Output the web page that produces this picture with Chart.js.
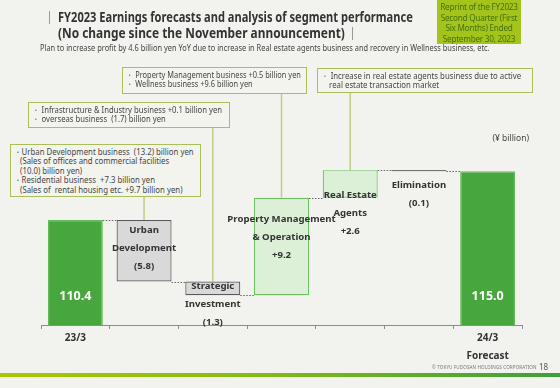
<!DOCTYPE html>
<html>
<head>
<meta charset="utf-8">
<script src="https://cdn.jsdelivr.net/npm/chart.js@4.4.0/dist/chart.umd.min.js"></script>
<style>
  html, body { margin: 0; padding: 0; background: #f2f2ee; }
  #wrap { position: relative; width: 560px; height: 388px; overflow: hidden; font-family: "Noto Sans", sans-serif; color: #333; }
  #chart { position: absolute; left: 0; top: 0; }
  .abs { position: absolute; white-space: nowrap; }
  .title { font-weight: bold; font-size: 13.5px; line-height: 16px; color: #333; transform-origin: left center; }
  .bar { position: absolute; width: 1px; height: 13px; background: #999; }
  .sub { font-size: 9px; line-height: 11px; color: #444; transform-origin: left center; }
  .reprint { left: 437px; top: 0; width: 84px; height: 44px; background: #a5c41b; }
  .reprint div { position: absolute; left: 0; width: 84px; text-align: center; font-size: 8.2px; line-height: 9px; color: #44720c; letter-spacing: -0.25px; }
  .note { position: absolute; border: 1.5px solid #a9bf5a; background: #f4f4ef; box-sizing: border-box; }
  .note .in { position: absolute; left: 3px; top: 2px; font-size: 8.2px; line-height: 9.4px; color: #444; white-space: nowrap; transform-origin: left top; }
  .unit { right: 31px; top: 132px; font-size: 8.5px; color: #444; }
  .foot { position: absolute; left: 0; top: 373px; width: 560px; height: 4px; background: linear-gradient(to right, #aac800, #86bb16 45%, #3f9f3a); }
  .copy { left: 432px; top: 364px; font-size: 4.6px; color: #777; letter-spacing: 0.1px; }
  .page { left: 539px; top: 361px; font-size: 8px; color: #555; }
</style>
</head>
<body>
<div id="wrap">
  <canvas id="chart" width="560" height="388"></canvas>

  <div class="bar" style="left:49px; top:11px;"></div>
  <div class="abs title" data-fit="355" style="left:58px; top:9px;">FY2023 Earnings forecasts and analysis of segment performance</div>
  <div class="abs title" data-fit="287" style="left:58px; top:25px;">(No change since the November announcement)</div>
  <div class="bar" style="left:352px; top:27px;"></div>
  <div class="abs sub" data-fit="450" style="left:40px; top:42px;">Plan to increase profit by 4.6 billion yen YoY due to increase in Real estate agents business and recovery in Wellness business, etc.</div>

  <div class="abs reprint">
    <div style="top:2px;">Reprint of the FY2023</div>
    <div style="top:12.5px;">Second Quarter (First</div>
    <div style="top:23px;">Six Months) Ended</div>
    <div style="top:33.5px;">September 30, 2023</div>
  </div>

  <div class="note" style="left:10px; top:144px; width:191px; height:53px;">
    <div class="in" data-fit="180">・Urban Development business&nbsp; (13.2) billion yen<br>&nbsp;&nbsp;&nbsp;(Sales of offices and commercial facilities<br>&nbsp;&nbsp;&nbsp;(10.0) billion yen)<br>・Residential business&nbsp; +7.3 billion yen<br>&nbsp;&nbsp;&nbsp;(Sales of&nbsp; rental housing etc. +9.7 billion yen)</div>
  </div>
  <div class="note" style="left:28px; top:102px; width:202px; height:26px;">
    <div class="in" data-fit="190">・ Infrastructure &amp; Industry business +0.1 billion yen<br>・ overseas business&nbsp; (1.7) billion yen</div>
  </div>
  <div class="note" style="left:122px; top:67px; width:185px; height:27px;">
    <div class="in" data-fit="175">・ Property Management business +0.5 billion yen<br>・ Wellness business +9.6 billion yen</div>
  </div>
  <div class="note" style="left:317px; top:68px; width:216px; height:25px;">
    <div class="in" data-fit="200">・ Increase in real estate agents business due to active<br>&nbsp;&nbsp;&nbsp;&nbsp;real estate transaction market</div>
  </div>

  <div class="abs unit">(¥ billion)</div>

  <div class="foot"></div>
  <div class="abs copy">© TOKYU FUDOSAN HOLDINGS CORPORATION</div>
  <div class="abs page">18</div>
</div>

<script>
// データ（単位：十億円）
const categories = ['23/3', 'Urban Development', 'Strategic Investment', 'Property Management & Operation', 'Real Estate Agents', 'Elimination', '24/3 Forecast'];
const tickLabels = ['23/3', '', '', '', '', '', ['24/3', 'Forecast']];
const changes = [110.4, -5.8, -1.3, 9.2, 2.6, -0.1, 115.0];
const kinds = ['total', 'down', 'down', 'up', 'up', 'elim', 'total'];
const barLabels = [
  ['110.4'],
  ['Urban', 'Development', '(5.8)'],
  ['Strategic', 'Investment', '(1.3)'],
  ['Property Management', '& Operation', '+9.2'],
  ['Real Estate', 'Agents', '+2.6'],
  ['Elimination', '(0.1)'],
  ['115.0']
];

// 表示用の位置・スタイル
const labelOffset = [null, 10, 5, 22, 25, 15, null];
const noteLineTop = [null, 196, 127, 93, 92, null, null];
const fills = { total: '#48a63e', down: '#d9d9d9', up: '#dcf0d8', elim: '#111111' };
const borders = { total: '#66bb5c', down: '#5a5a5a', up: '#6cc060', elim: '#111111' };

// 積み上げ（ウォーターフォール）の範囲を作る
let running = 0;
const ranges = changes.map((c, i) => {
  if (kinds[i] === 'total') { running = c; return [0, c]; }
  const r = [running, running + c];
  running += c;
  return r;
});

/**
 * 注記の引き出し線・コネクタ・ラベル
 */
const waterfallDecor = {
  id: 'waterfallDecor',
  beforeDatasetsDraw(chart) {
    const ctx = chart.ctx;
    const meta = chart.getDatasetMeta(0);
    ctx.save();
    ctx.strokeStyle = '#c2cc86';
    ctx.lineWidth = 1.5;
    meta.data.forEach((bar, i) => {
      if (noteLineTop[i] == null) return;
      const top = Math.min(bar.y, bar.base);
      ctx.beginPath();
      ctx.moveTo(bar.x, noteLineTop[i]);
      ctx.lineTo(bar.x, top);
      ctx.stroke();
    });
    ctx.restore();
  },
  afterDatasetsDraw(chart) {
    const { ctx, chartArea } = chart;
    const yScale = chart.scales.y;
    const meta = chart.getDatasetMeta(0);

    // コネクタ（点線）
    ctx.save();
    ctx.strokeStyle = '#666';
    ctx.lineWidth = 1;
    ctx.setLineDash([1.5, 1.5]);
    for (let i = 0; i < meta.data.length - 1; i++) {
      const a = meta.data[i], b = meta.data[i + 1];
      const py = Math.round(yScale.getPixelForValue(ranges[i][1])) + 0.5;
      ctx.beginPath();
      ctx.moveTo(a.x + a.width / 2, py);
      ctx.lineTo(b.x - b.width / 2, py);
      ctx.stroke();
    }
    ctx.restore();

    // ラベル
    ctx.save();
    ctx.textAlign = 'center';
    ctx.textBaseline = 'middle';
    meta.data.forEach((bar, i) => {
      const lines = barLabels[i];
      if (kinds[i] === 'total') {
        ctx.font = 'bold 12.5px "Noto Sans", sans-serif';
        ctx.fillStyle = '#ffffff';
        ctx.fillText(lines[0], bar.x, chartArea.bottom - 29);
        return;
      }
      const top = Math.min(bar.y, bar.base);
      ctx.font = 'bold 9.6px "Noto Sans", sans-serif';
      ctx.fillStyle = '#333';
      lines.forEach((t, k) => ctx.fillText(t, bar.x, top + labelOffset[i] + k * 18));
    });
    ctx.restore();
  }
};

Chart.defaults.font.family = '"Noto Sans", sans-serif';

new Chart(document.getElementById('chart'), {
  type: 'bar',
  data: {
    labels: categories,
    datasets: [{
      data: ranges,
      backgroundColor: kinds.map(k => fills[k]),
      borderColor: kinds.map(k => borders[k]),
      borderWidth: kinds.map(k => k === 'elim' ? 1 : 1.2),
      borderSkipped: false,
      barPercentage: 0.8,
      categoryPercentage: 1.0
    }]
  },
  options: {
    responsive: false,
    animation: false,
    layout: { padding: { left: 41, right: 38, top: 150, bottom: 23 } },
    plugins: { legend: { display: false }, tooltip: { enabled: false } },
    scales: {
      x: {
        grid: { display: true, drawOnChartArea: false, drawTicks: true, tickLength: 4, offset: true, color: '#8c8c8c' },
        border: { display: true, color: '#8c8c8c', width: 1 },
        ticks: {
          padding: 0,
          maxRotation: 0,
          autoSkip: false,
          color: '#333',
          font: { size: 10, weight: 'bold', lineHeight: 1.8 },
          callback: (v, i) => tickLabels[i]
        }
      },
      y: { display: false, min: 100.5, max: 117 }
    }
  },
  plugins: [waterfallDecor]
});

// 横幅合わせ
document.querySelectorAll('[data-fit]').forEach(el => {
  const target = parseFloat(el.dataset.fit);
  const w = el.scrollWidth;
  if (w > 0) el.style.transform = `scaleX(${target / w})`;
});
</script>
</body>
</html>
